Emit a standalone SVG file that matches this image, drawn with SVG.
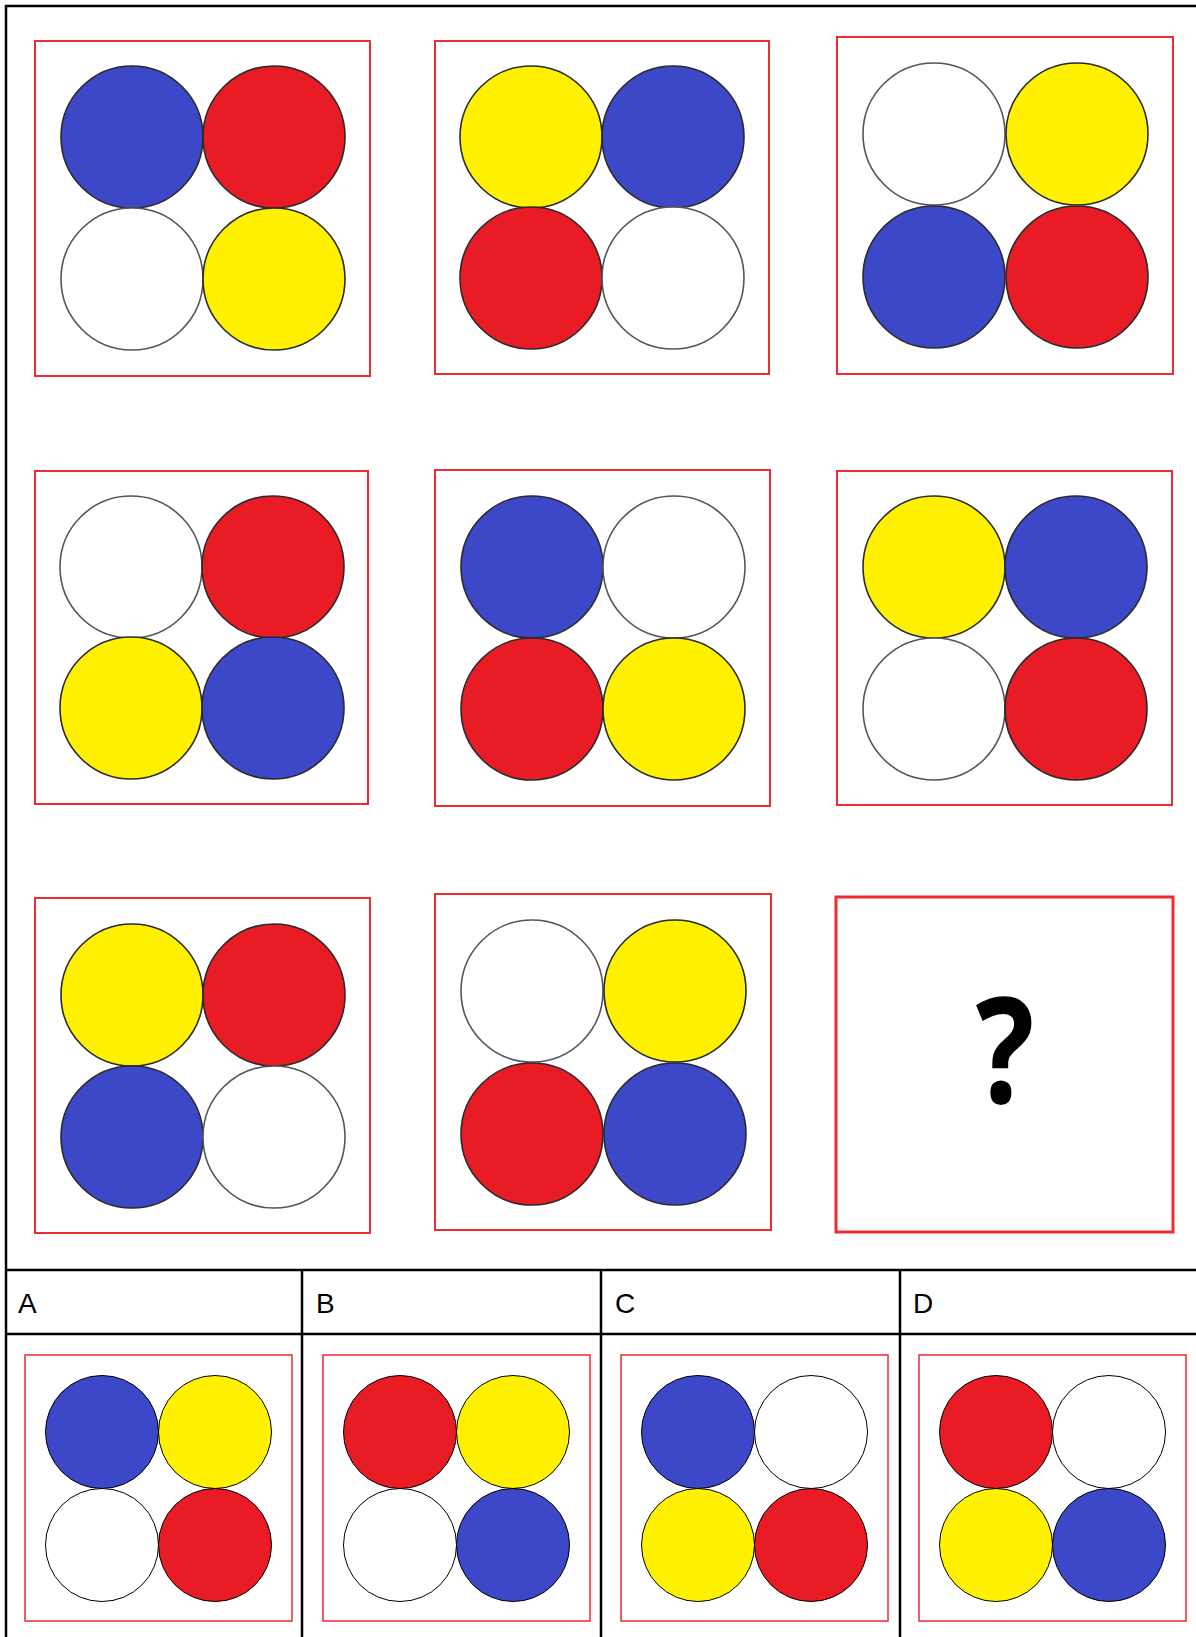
<svg xmlns="http://www.w3.org/2000/svg" width="1196" height="1637" viewBox="0 0 1196 1637">
<style>
.frame{fill:#fff;stroke:#ee2a33;stroke-width:2}
.ofr{fill:#fff;stroke:#ee2a33;stroke-width:1.5}
.c{stroke:#2a2a2a;stroke-width:1.6}
.o{stroke:#000;stroke-width:1}
.b{fill:#3c48c8}.r{fill:#e91b24}.y{fill:#fff100}.w{fill:#fff;stroke:#555}
.grid{stroke:#000;stroke-width:2.5;fill:none}
.lbl{font-family:"Liberation Sans",Arial,sans-serif;font-size:28px;fill:#000}
</style>
<rect width="1196" height="1637" fill="#fff"/>
<g id="connectors">
<path class="grid" d="M6,1637 V6 H1196"/>
<path class="grid" d="M6,1270 H1196 M6,1334 H1196 M302,1270 V1637 M601,1270 V1637 M900,1270 V1637"/>
</g>
<g id="cell1"><rect class="frame" x="35" y="41" width="335" height="335"/>
<circle class="c b" cx="132" cy="137" r="71"/><circle class="c r" cx="274" cy="137" r="71"/><circle class="c w" cx="132" cy="279" r="71"/><circle class="c y" cx="274" cy="279" r="71"/></g>
<g id="cell2"><rect class="frame" x="435" y="41" width="334" height="333"/>
<circle class="c y" cx="531" cy="137" r="71"/><circle class="c b" cx="673" cy="137" r="71"/><circle class="c r" cx="531" cy="278" r="71"/><circle class="c w" cx="673" cy="278" r="71"/></g>
<g id="cell3"><rect class="frame" x="837" y="37" width="336" height="337"/>
<circle class="c w" cx="934" cy="134" r="71"/><circle class="c y" cx="1077" cy="134" r="71"/><circle class="c b" cx="934" cy="277" r="71"/><circle class="c r" cx="1077" cy="277" r="71"/></g>
<g id="cell4"><rect class="frame" x="35" y="471" width="333" height="333"/>
<circle class="c w" cx="131" cy="567" r="71"/><circle class="c r" cx="273" cy="567" r="71"/><circle class="c y" cx="131" cy="708" r="71"/><circle class="c b" cx="273" cy="708" r="71"/></g>
<g id="cell5"><rect class="frame" x="435" y="470" width="335" height="336"/>
<circle class="c b" cx="532" cy="567" r="71"/><circle class="c w" cx="674" cy="567" r="71"/><circle class="c r" cx="532" cy="709" r="71"/><circle class="c y" cx="674" cy="709" r="71"/></g>
<g id="cell6"><rect class="frame" x="837" y="471" width="335" height="334"/>
<circle class="c y" cx="934" cy="567" r="71"/><circle class="c b" cx="1076" cy="567" r="71"/><circle class="c w" cx="934" cy="709" r="71"/><circle class="c r" cx="1076" cy="709" r="71"/></g>
<g id="cell7"><rect class="frame" x="35" y="898" width="335" height="335"/>
<circle class="c y" cx="132" cy="995" r="71"/><circle class="c r" cx="274" cy="995" r="71"/><circle class="c b" cx="132" cy="1137" r="71"/><circle class="c w" cx="274" cy="1137" r="71"/></g>
<g id="cell8"><rect class="frame" x="435" y="894" width="336" height="336"/>
<circle class="c w" cx="532" cy="991" r="71"/><circle class="c y" cx="675" cy="991" r="71"/><circle class="c r" cx="532" cy="1134" r="71"/><circle class="c b" cx="675" cy="1134" r="71"/></g>
<g id="cell9"><rect x="836" y="897" width="337" height="335" fill="#fff" stroke="#ee2a33" stroke-width="3"/>
<text x="1005" y="1103" text-anchor="middle" transform="translate(1005,0) scale(0.83,1) translate(-1005,0)" font-family="'Open Sans','Noto Sans',sans-serif" font-weight="700" font-size="148" fill="#000">?</text></g>
<g id="optA"><text class="lbl" x="18" y="1313">A</text><rect class="ofr" x="25" y="1355" width="267" height="266"/>
<circle class="o b" cx="102" cy="1432" r="56.5"/><circle class="o y" cx="215" cy="1432" r="56.5"/><circle class="o w" style="stroke:#000" cx="102" cy="1545" r="56.5"/><circle class="o r" cx="215" cy="1545" r="56.5"/></g>
<g id="optB"><text class="lbl" x="316" y="1313">B</text><rect class="ofr" x="323" y="1355" width="267" height="266"/>
<circle class="o r" cx="400" cy="1432" r="56.5"/><circle class="o y" cx="513" cy="1432" r="56.5"/><circle class="o w" style="stroke:#000" cx="400" cy="1545" r="56.5"/><circle class="o b" cx="513" cy="1545" r="56.5"/></g>
<g id="optC"><text class="lbl" x="615" y="1313">C</text><rect class="ofr" x="621" y="1355" width="267" height="266"/>
<circle class="o b" cx="698" cy="1432" r="56.5"/><circle class="o w" style="stroke:#000" cx="811" cy="1432" r="56.5"/><circle class="o y" cx="698" cy="1545" r="56.5"/><circle class="o r" cx="811" cy="1545" r="56.5"/></g>
<g id="optD"><text class="lbl" x="913" y="1313">D</text><rect class="ofr" x="919" y="1355" width="267" height="266"/>
<circle class="o r" cx="996" cy="1432" r="56.5"/><circle class="o w" style="stroke:#000" cx="1109" cy="1432" r="56.5"/><circle class="o y" cx="996" cy="1545" r="56.5"/><circle class="o b" cx="1109" cy="1545" r="56.5"/></g>
</svg>
